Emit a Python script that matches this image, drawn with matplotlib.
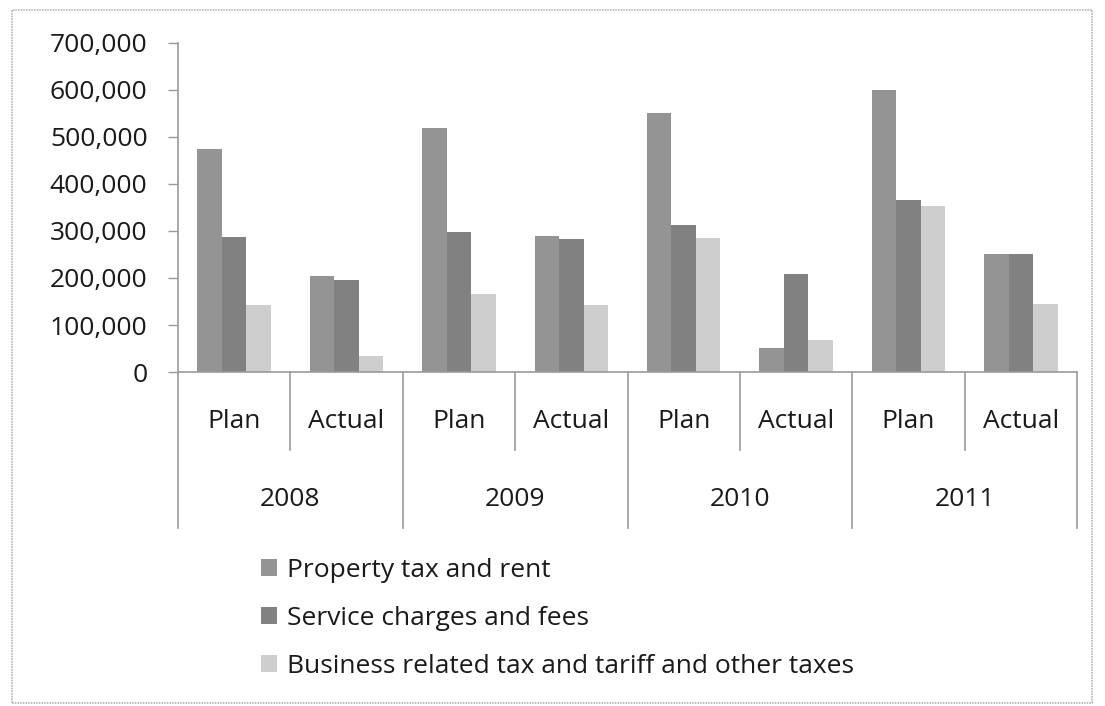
import numpy as np
import matplotlib
matplotlib.use("Agg")
import matplotlib.pyplot as plt
from matplotlib.patches import Rectangle
from matplotlib.ticker import FuncFormatter
import matplotlib.transforms as mtransforms

plt.rcParams['font.family'] = ['Open Sans', 'DejaVu Sans']

years = ['2008', '2009', '2010', '2011']
phases = ['Plan', 'Actual']
series_names = ['Property tax and rent',
                'Service charges and fees',
                'Business related tax and tariff and other taxes']

# one value per (year, phase): 2008 Plan, 2008 Actual, 2009 Plan, ...
property_tax = [474000, 204000, 519000, 289000, 551000, 51000, 600000, 252000]
service_fees = [287000, 195000, 298000, 282000, 312000, 208000, 365000, 250000]
business_tax = [142000, 35000, 167000, 142000, 285000, 68000, 354000, 145000]

colors = ['#949494', '#818181', '#cecece']
axis_gray = '#9a9a9a'
text_color = '#1a1a1a'
fs = 19

fig = plt.figure(figsize=(11.05, 7.06), dpi=100)
W, H = 1105, 706

# light frame around the whole chart
fig.patches.append(Rectangle((12 / W, 1 - 703 / H), 1080 / W, 693 / H,
                             transform=fig.transFigure, fill=False,
                             edgecolor='#b5b5b5', lw=1.2, linestyle=(0, (1, 0.6))))

ax = fig.add_axes([178 / W, 1 - 372 / H, 899 / W, 329 / H])

n = len(property_tax)
x = np.arange(n)
bw = 0.218
for i, (vals, c, name) in enumerate(zip([property_tax, service_fees, business_tax],
                                        colors, series_names)):
    ax.bar(x + (i - 1) * bw, vals, width=bw, color=c, label=name, zorder=2)

ax.set_xlim(-0.5, n - 0.5)
ax.set_ylim(0, 700000)
ax.set_yticks(np.arange(0, 700001, 100000))
ax.yaxis.set_major_formatter(FuncFormatter(lambda v, p: f'{int(v):,}'))
ax.tick_params(axis='y', length=7, width=1, color=axis_gray, labelsize=fs,
               labelcolor=text_color, pad=15)
ax.set_xticks([])

for side in ['top', 'right']:
    ax.spines[side].set_visible(False)
for side in ['left', 'bottom']:
    ax.spines[side].set_color(axis_gray)
    ax.spines[side].set_linewidth(1.2)

# two-level category axis
trans = mtransforms.blended_transform_factory(ax.transData, ax.transAxes)
for b in np.arange(-0.5, n, 1.0):
    k = int(b + 0.5)
    bottom = -0.474 if k % 2 == 0 else -0.237
    ax.plot([b, b], [0, bottom], transform=trans, color=axis_gray,
            lw=1.2, clip_on=False)
for i in range(n):
    ax.text(i, -0.149, phases[i % 2], transform=trans, ha='center', va='center',
            fontsize=fs, color=text_color)
for j, yr in enumerate(years):
    ax.text(2 * j + 0.5, -0.389, yr, transform=trans, ha='center', va='center',
            fontsize=fs, color=text_color)

fig.legend(loc='upper left', bbox_to_anchor=(261 / W, 1 - 558 / H),
           frameon=False, fontsize=fs, handlelength=0.62, handleheight=0.62,
           handletextpad=0.35, labelspacing=0.87, borderpad=0, borderaxespad=0,
           labelcolor=text_color)

fig.savefig('out.png', dpi=100, facecolor='white')
